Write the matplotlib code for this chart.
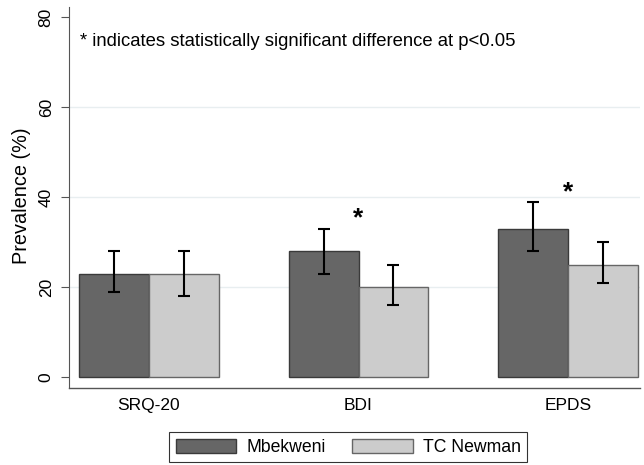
import numpy as np
import matplotlib.pyplot as plt

plt.rcParams['font.family'] = ['Liberation Sans', 'DejaVu Sans']

# measures and prevalence values
scales = ['SRQ-20', 'BDI', 'EPDS']
mbekweni = [23, 28, 33]
mbekweni_lo = [19, 23, 28]
mbekweni_hi = [28, 33, 39]
newman = [23, 20, 25]
newman_lo = [18, 16, 21]
newman_hi = [28, 25, 30]
# asterisks for significant differences (scale index, height)
sig_marks = [(1, 35.3), (2, 41.0)]

fig = plt.figure(figsize=(6.44, 4.65), dpi=100)
ax = fig.add_axes([0.107, 0.1656, 0.887, 0.819])

x = np.arange(len(scales))
w = 0.332

def yerr(vals, lo, hi):
    return [np.array(vals) - np.array(lo), np.array(hi) - np.array(vals)]

ax.bar(x - w / 2, mbekweni, w, color='#666666', edgecolor='#3a3a3a',
       linewidth=1.0, label='Mbekweni', zorder=2)
ax.bar(x + w / 2, newman, w, color='#cccccc', edgecolor='#666666',
       linewidth=1.0, label='TC Newman', zorder=2)
ax.errorbar(x - w / 2, mbekweni, yerr=yerr(mbekweni, mbekweni_lo, mbekweni_hi),
            fmt='none', ecolor='black', elinewidth=1.5, capsize=4, capthick=1.5, zorder=3)
ax.errorbar(x + w / 2, newman, yerr=yerr(newman, newman_lo, newman_hi),
            fmt='none', ecolor='black', elinewidth=1.5, capsize=4, capthick=1.5, zorder=3)

for i, h in sig_marks:
    ax.text(x[i], h, '*', ha='center', va='center', fontsize=19, fontweight='bold')

ax.text(-0.33, 74.5, '* indicates statistically significant difference at p<0.05',
        ha='left', va='center', fontsize=13.3)

ax.set_xlim(-0.382, 2.344)
ax.set_ylim(-2.4, 82.2)
ax.set_yticks([0, 20, 40, 60, 80])
ax.set_xticks(x)
ax.set_xticklabels(scales, fontsize=12.5)
ax.tick_params(axis='x', length=0, pad=7)
ax.tick_params(axis='y', length=6, width=0.8, color='#555555', pad=5, labelsize=12.5)
for lab in ax.get_yticklabels():
    lab.set_rotation(90)
    lab.set_va('center')
ax.set_ylabel('Prevalence (%)', fontsize=14.3)
ax.yaxis.set_label_coords(-0.066, 0.505)

for g in [20, 40, 60]:
    ax.axhline(g, color='#e8eef0', linewidth=1.0, zorder=1)

ax.spines['top'].set_visible(False)
ax.spines['right'].set_visible(False)
ax.spines['left'].set_color('#555555')
ax.spines['bottom'].set_color('#555555')
ax.spines['left'].set_linewidth(0.8)
ax.spines['bottom'].set_linewidth(1.0)

handles, labels = ax.get_legend_handles_labels()
leg = fig.legend(handles, labels, loc='center', ncol=2, bbox_to_anchor=(0.541, 0.038),
                 fontsize=12.7, frameon=True, fancybox=False, edgecolor='black',
                 handlelength=3.45, handleheight=0.92, columnspacing=1.5,
                 borderpad=0.35, handletextpad=0.57)
leg.get_frame().set_linewidth(0.8)

fig.savefig('out.png', dpi=100)
